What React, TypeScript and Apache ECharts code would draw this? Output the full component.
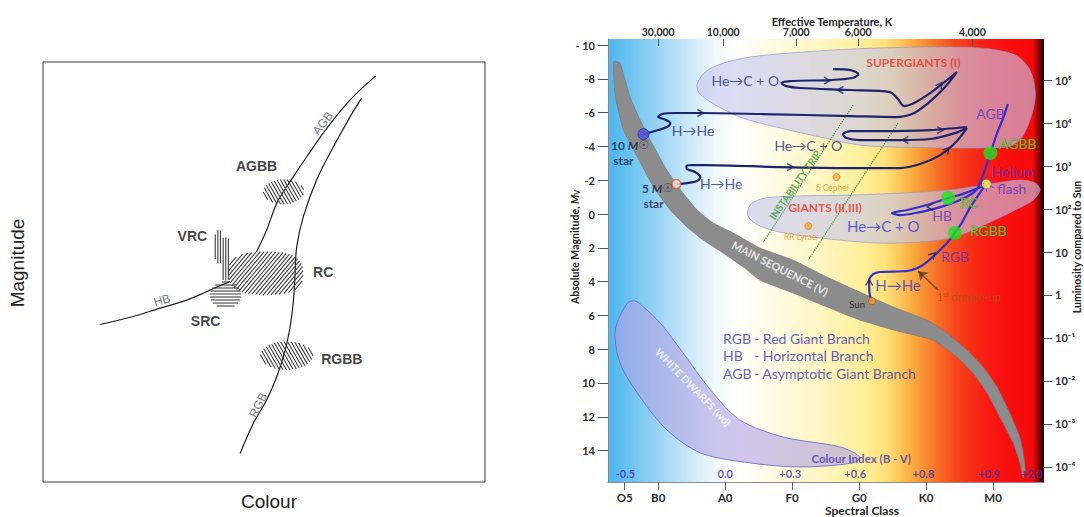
import React, { useEffect, useRef } from 'react';
import * as echarts from 'echarts';

const SANS = '"Liberation Sans", Arial, sans-serif';
const LATO = 'Lato, "Open Sans", "DejaVu Sans", sans-serif';
const NARROW = '"Liberation Sans Narrow", Lato, sans-serif';

// ================= LEFT PANEL: schematic colour–magnitude diagram (axes 0–100) =================
const hbCurve = [[12.9, 37.5], [20.4, 39.4], [26.5, 41.4], [32.5, 43.3], [37.0, 45.3], [40.0, 46.7], [42.3, 47.7]];
const agbCurve = [[48.3, 54.8], [50.6, 60.0], [52.9, 66.4], [55.9, 71.5], [59.7, 77.5], [64.2, 84.2], [69.5, 91.0], [75.3, 96.7]];
const rgbCurve = [[44.6, 6.8], [47.6, 14.0], [50.6, 19.5], [52.9, 25.1], [54.8, 31.4], [55.9, 37.0], [56.6, 42.5],
  [57.0, 48.9], [57.4, 56.0], [58.9, 63.2], [61.9, 71.9], [65.7, 79.8], [69.5, 87.0], [72.1, 91.4]];
// hatched clumps: centre x, centre y, half-width, half-height (data units)
const clumpNames = ['AGBB', 'RC', 'SRC', 'VRC-a', 'VRC-b', 'RGBB'];
const clumps = [
  [54.4, 69.1, 4.6, 3.0],
  [50.4, 49.7, 8.5, 5.2],
  [41.3, 44.5, 3.6, 3.2],
  [39.7, 56.0, 0.8, 4.0],
  [41.3, 53.1, 1.0, 5.2],
  [55.1, 30.1, 6.0, 3.4],
];
const clumpHatchAngle = [60, -50, 0, 90, 90, 60];
const clumpShapePower = [2, 2.6, 2, 4, 4, 2];
const leftLabels: [string, number, number][] = [
  ['AGBB', 48.3, 75.2], ['VRC', 33.8, 58.6], ['RC', 63.4, 50.1], ['SRC', 36.8, 38.4], ['RGBB', 67.6, 29.2],
];
const branchLabels: [string, number, number, number][] = [
  ['AGB', 63.3, 85.4, 52], ['HB', 26.9, 43.3, 15], ['RGB', 48.7, 18.3, 63],
];

// ================= RIGHT PANEL: HR diagram. x = spectral index (O5=0.5, B0=1, A0=2 ... M0=6), y = M_V =================
const specNames = ['O5', 'B0', 'A0', 'F0', 'G0', 'K0', 'M0'];
const specPos = [0.5, 1, 2, 3, 4, 5, 6];
const tempLabels = ['30,000', '10,000', '7,000', '6,000', '4,000'];
const tempPos = [1.0, 1.97, 3.06, 3.985, 5.69];
const magTicks = [-10, -8, -6, -4, -2, 0, 2, 4, 6, 8, 10, 12, 14];
const lumTicks = [-4, -3, -2, -1, 0, 1, 2, 3, 4, 5];
const lumLabels = ['10⁻⁴', '10⁻³', '10⁻²', '10⁻¹', '1', '10', '10²', '10³', '10⁴', '10⁵'];
const colourIndex = ['-0.5', '0.0', '+0.3', '+0.6', '+0.8', '+0.9', '+2.0'];
const colourIndexPos = [0.51, 2.0, 2.97, 3.94, 4.96, 5.94, 6.58];
const colourIndexMag = 15.33;

const mainSequence = [
  [0.34, -9.05], [0.43, -8.93], [0.58, -6.92], [0.73, -5.56], [0.88, -4.38], [1.13, -2.60], [1.37, -1.24],
  [1.58, -0.24], [1.82, 0.53], [2.12, 1.12], [2.52, 2.01], [3.01, 2.72], [3.52, 3.73], [4.01, 4.62],
  [4.51, 5.50], [5.01, 6.27], [5.25, 6.86], [5.61, 8.05], [5.85, 9.05], [6.06, 10.24], [6.25, 11.78],
  [6.40, 13.20], [6.46, 14.38], [6.48, 15.15], [6.45, 15.62],
  [6.40, 14.73], [6.30, 13.55], [6.10, 12.01], [5.91, 10.59], [5.70, 9.41], [5.46, 8.46], [5.10, 7.46],
  [4.51, 6.86], [4.01, 6.27], [3.52, 5.50], [3.01, 4.67], [2.52, 3.91], [2.27, 3.14], [1.97, 2.31],
  [1.67, 1.54], [1.43, 0.77], [1.18, -0.24], [0.93, -1.60], [0.69, -3.37], [0.48, -4.97], [0.36, -6.92], [0.33, -8.70],
];
const supergiants = [
  [1.58, -7.69], [1.70, -8.40], [1.93, -8.88], [2.37, -9.29], [2.97, -9.53], [3.87, -9.76], [4.91, -9.88],
  [5.81, -9.82], [6.33, -9.41], [6.55, -8.52], [6.63, -7.04], [6.55, -5.56], [6.40, -4.38], [6.18, -3.96],
  [4.61, -3.96], [4.01, -4.08], [3.42, -4.56], [2.82, -5.09], [2.22, -5.74], [1.78, -6.63], [1.60, -7.22],
];
const giants = [
  [2.33, -0.12], [2.40, -0.65], [2.60, -0.95], [3.12, -1.07], [3.87, -1.12], [4.61, -1.24], [5.36, -1.42],
  [5.96, -1.78], [6.40, -2.01], [6.63, -1.83], [6.70, -1.42], [6.60, -0.83], [6.33, -0.24], [5.96, 0.47],
  [5.51, 1.24], [5.06, 1.60], [4.31, 1.72], [3.42, 1.42], [2.82, 1.07], [2.52, 0.71], [2.37, 0.30],
];
const whiteDwarfs = [
  [0.54, 5.27], [0.36, 6.86], [0.43, 8.82], [0.73, 10.83], [1.13, 12.78], [1.63, 14.14], [2.37, 14.73],
  [3.12, 14.97], [3.91, 14.73], [4.01, 14.38], [3.72, 13.79], [2.87, 13.20], [2.22, 12.19], [1.78, 10.41],
  [1.37, 8.22], [1.03, 6.45], [0.78, 5.50], [0.66, 5.15],
];
const instabilityA = [[3.91, -6.45], [2.57, 1.66]];
const instabilityB = [[4.58, -5.38], [3.24, 2.72]];

const track10 = [
  [0.78, -4.73], [1.0, -4.97], [1.13, -5.15], [1.18, -5.38], [1.10, -5.59], [1.0, -5.74], [1.06, -5.92],
  [1.25, -5.98], [1.63, -5.98], [2.52, -5.92], [3.87, -5.80], [4.54, -5.74], [4.79, -5.92], [5.03, -6.57],
  [5.28, -7.51], [5.46, -8.40], [5.33, -7.99], [5.06, -7.16], [4.79, -6.51], [4.67, -6.39], [4.58, -6.80],
  [4.46, -7.22], [3.87, -7.34], [3.12, -7.46], [2.91, -7.57], [2.84, -7.75], [2.97, -7.87], [3.57, -7.93],
  [3.90, -8.05], [3.99, -8.28], [3.87, -8.52], [3.61, -8.58],
];
const track5 = [
  [1.27, -1.78], [1.43, -1.83], [1.58, -1.95], [1.63, -2.19], [1.55, -2.49], [1.43, -2.66], [1.42, -2.84],
  [1.51, -2.90], [1.70, -2.90], [2.82, -2.78], [3.87, -2.72], [4.61, -2.72], [4.91, -2.96], [5.21, -3.49],
  [5.43, -4.20], [5.61, -5.09], [5.43, -4.79], [5.06, -4.44], [4.61, -4.38], [4.01, -4.38], [3.81, -4.50],
  [3.76, -4.73], [3.87, -4.91], [4.31, -4.91], [5.06, -4.97], [5.61, -5.15],
];
const trackSun = [
  [4.19, 5.15], [4.16, 4.79], [4.15, 4.32], [4.15, 3.91], [4.21, 3.55], [4.31, 3.43], [4.72, 3.37],
  [4.87, 3.20], [5.01, 2.84], [5.21, 2.13], [5.39, 1.36], [5.43, 1.12], [5.54, 0.47], [5.66, -0.41],
  [5.78, -1.12], [5.90, -1.78], [5.78, -1.54], [5.54, -1.18], [5.33, -0.95], [5.06, -0.59], [4.72, -0.24],
  [4.49, -0.06], [4.61, 0.06], [4.84, -0.06], [5.21, -0.41], [5.54, -0.89], [5.75, -1.42], [5.85, -2.31],
  [5.96, -3.61], [6.06, -4.79], [6.15, -5.68], [6.22, -6.51],
];
// direction arrows on the tracks: x, M, heading (deg, anticlockwise from +x)
const trackArrows = [
  [1.63, -5.98, 0], [2.97, -2.78, 0], [3.52, -7.90, 0], [3.72, -7.34, 180], [5.21, -7.63, 55],
  [5.31, -3.79, 50], [5.21, -4.97, 0], [4.69, -4.38, 180], [4.15, 4.05, 90], [5.10, 2.43, 45], [5.06, -0.42, 180],
];
const starPoints = [[0.78, -4.73], [1.27, -1.78], [4.19, 5.15]];
const clumpPoints = [[5.96, -3.61], [5.33, -0.95], [5.43, 1.12]];
const heliumFlash = [5.90, -1.78];
const variablePoints = [[3.66, -2.19], [3.24, 0.71]];
const dredgeArrow = [[5.18, 4.50], [4.88, 3.37]];

const rightLabels: [string, number, number, string][] = [
  ['He→C + O', 2.30, -7.93, 'navy'],
  ['H→He', 1.52, -4.97, 'navy'],
  ['He→C + O', 3.24, -4.08, 'navy'],
  ['H→He', 1.94, -1.83, 'navy'],
  ['He→C + O', 4.36, 0.71, 'blue'],
  ['H→He', 4.58, 4.20, 'blue'],
  ['{n|10 }{i|M}{s|☉}', 0.58, -4.08, 'star'],
  ['star', 0.48, -3.14, 'star'],
  ['{n|5 }{i|M}{s|☉}', 0.99, -1.54, 'star'],
  ['star', 0.93, -0.65, 'star'],
  ['SUPERGIANTS (I)', 4.81, -8.99, 'region'],
  ['GIANTS (II,III)', 3.49, -0.36, 'region'],
  ['MAIN SEQUENCE (V)', 2.82, 3.20, 'ms'],
  ['WHITE DWARFS (wd)', 1.52, 10.24, 'wd'],
  ['INSTABILITY TRIP', 3.04, -1.72, 'instab'],
  ['δ Cephei', 3.60, -1.54, 'variable'],
  ['RR Lyrae', 3.12, 1.36, 'variable'],
  ['Sun', 3.97, 5.33, 'sun'],
  ['{n|1}{s|st} dredge-up', 5.64, 4.91, 'dredge'],
  ['AGB', 5.96, -5.98, 'branch'],
  ['Helium', 6.30, -2.49, 'branch'],
  ['flash', 6.28, -1.54, 'branch'],
  ['HB', 5.24, 0.06, 'branch'],
  ['RGB', 5.43, 2.54, 'branch'],
  ['AGBB', 6.37, -4.20, 'clump'],
  ['RC', 5.64, -0.71, 'clump'],
  ['RGBB', 5.93, 0.95, 'clump'],
  ['Colour Index (B - V)', 4.03, 14.44, 'ci'],
  ['{k|RGB}{v|- Red Giant Branch}', 1.96, 7.34, 'legend'],
  ['{k|HB}{v|- Horizontal Branch}', 1.96, 8.40, 'legend'],
  ['{k|AGB}{v|- Asymptotic Giant Branch}', 1.96, 9.41, 'legend'],
];

const labelStyles: Record<string, any> = {
  navy: { fontSize: 14, color: '#262b85', fontFamily: LATO },
  blue: { fontSize: 15, color: '#3b3bd4', fontFamily: LATO },
  star: {
    fontSize: 12, fontWeight: 'bold', color: '#1c1c4a', fontFamily: LATO,
    rich: {
      n: { fontSize: 12, fontWeight: 'bold', color: '#1c1c4a', fontFamily: LATO },
      i: { fontSize: 12, fontWeight: 'bold', fontStyle: 'italic', color: '#1c1c4a', fontFamily: LATO },
      s: { fontSize: 12, color: '#1c1c4a', fontFamily: '"DejaVu Sans", sans-serif' },
    },
  },
  region: { fontSize: 12, fontWeight: 'bold', color: '#e3342b', fontFamily: LATO },
  ms: { fontSize: 11, fontWeight: 'bold', color: '#ffffff', fontFamily: LATO, rotate: -27 },
  wd: { fontSize: 10.5, fontWeight: 'bold', color: '#ffffff', fontFamily: LATO, rotate: -46 },
  instab: { fontSize: 10, fontWeight: 'bold', color: '#2f9a2f', fontFamily: LATO, rotate: 55 },
  variable: { fontSize: 8.5, color: '#e8901e', fontFamily: LATO },
  sun: { fontSize: 9.5, color: '#111111', fontFamily: LATO },
  dredge: {
    fontSize: 11, color: '#b5500e', fontFamily: LATO,
    rich: {
      n: { fontSize: 11, color: '#b5500e', fontFamily: LATO },
      s: { fontSize: 7, color: '#b5500e', fontFamily: LATO, padding: [0, 0, 5, 0] },
    },
  },
  branch: { fontSize: 14, color: '#5b34c4', fontFamily: LATO },
  clump: { fontSize: 14, color: '#52e23c', fontFamily: LATO, textBorderColor: 'rgba(80,90,20,0.55)', textBorderWidth: 1 },
  ci: { fontSize: 11.5, fontWeight: 'bold', color: '#4a32b0', fontFamily: LATO },
  legend: {
    position: 'right', distance: 0, fontSize: 14, color: '#3a36b6', fontFamily: LATO,
    rich: {
      k: { width: 31, fontSize: 14, color: '#3a36b6', fontFamily: LATO },
      v: { fontSize: 14, color: '#3a36b6', fontFamily: LATO },
    },
  },
};

function pick(values: number[], names: string[]) {
  return (v: number) => {
    const i = values.findIndex((p) => Math.abs(p - v) < 1e-6);
    return i >= 0 ? names[i] : '';
  };
}

function labelSeries(items: any[], styles: Record<string, any> | null, xi: number, yi: number, z: number, common?: any) {
  return {
    type: 'scatter', xAxisIndex: xi, yAxisIndex: yi, z, silent: true,
    symbolSize: 1, itemStyle: { color: 'rgba(0,0,0,0)' },
    data: items.map((it: any) => {
      const st = styles ? styles[it[3]] : common(it);
      return { value: [it[1], it[2]], label: { show: true, position: 'inside', formatter: it[0], ...st } };
    }),
  };
}

function polygonSeries(pts: number[][], fill: string, stroke: string, z: number, smooth: number) {
  return {
    type: 'custom', xAxisIndex: 1, yAxisIndex: 1, z, silent: true,
    data: [pts[0]],
    renderItem: (_p: any, api: any) => ({
      type: 'polygon',
      shape: { points: pts.map((p) => api.coord(p)), smooth },
      style: { fill, stroke, lineWidth: 1 },
    }),
  };
}

function trackSeries(pts: number[][], color: string, width: number) {
  return {
    type: 'line', xAxisIndex: 1, yAxisIndex: 1, z: 6, silent: true,
    data: pts, showSymbol: false, smooth: 0.3,
    lineStyle: { color, width },
  };
}

function buildOption() {
  const bg = new echarts.graphic.LinearGradient(0, 0, 1, 0, [
    { offset: 0, color: '#4cb5ee' },
    { offset: 0.073, color: '#7cc9f1' },
    { offset: 0.165, color: '#bde2f7' },
    { offset: 0.245, color: '#f0f9fd' },
    { offset: 0.3, color: '#fffffc' },
    { offset: 0.372, color: '#fffbe6' },
    { offset: 0.486, color: '#fff6c2' },
    { offset: 0.578, color: '#fff09c' },
    { offset: 0.635, color: '#ffe27a' },
    { offset: 0.67, color: '#fcc65a' },
    { offset: 0.704, color: '#f9a53c' },
    { offset: 0.75, color: '#f77628' },
    { offset: 0.796, color: '#f6461c' },
    { offset: 0.853, color: '#f82414' },
    { offset: 0.9, color: '#fb1010' },
    { offset: 0.975, color: '#f40a0a' },
    { offset: 0.99, color: '#7a0404' },
    { offset: 1, color: '#1a0000' },
  ]);

  const hatchSeries = {
    type: 'custom', xAxisIndex: 0, yAxisIndex: 0, z: 3, silent: true,
    data: clumps,
    renderItem: (params: any, api: any) => {
      const c = api.coord([api.value(0), api.value(1)]);
      const s = api.size([api.value(2), api.value(3)]);
      const rx = s[0], ry = s[1];
      const a = (clumpHatchAngle[params.dataIndex] * Math.PI) / 180;
      const pw = clumpShapePower[params.dataIndex];
      const dx = Math.cos(a), dy = Math.sin(a);
      const nx = -dy, ny = dx;
      const R = Math.max(rx, ry) * 1.2;
      const children: any[] = [];
      const step = pw >= 4 ? 2.6 : 3.0;
      for (let d = -R; d <= R; d += step) {
        let t0: number | null = null, t1 = 0;
        for (let t = -R * 1.5; t <= R * 1.5; t += 0.4) {
          const x = nx * d + dx * t, y = ny * d + dy * t;
          if (Math.pow(Math.abs(x / rx), pw) + Math.pow(Math.abs(y / ry), pw) <= 1) {
            if (t0 === null) t0 = t;
            t1 = t;
          }
        }
        if (t0 !== null && t1 - t0 > 1) {
          children.push({
            type: 'line',
            shape: { x1: c[0] + nx * d + dx * t0, y1: c[1] + ny * d + dy * t0, x2: c[0] + nx * d + dx * t1, y2: c[1] + ny * d + dy * t1 },
            style: { stroke: '#3e3e3e', lineWidth: 1.1 },
          });
        }
      }
      return { type: 'group', children };
    },
  };

  const leftLine = (pts: number[][]) => ({
    type: 'line', xAxisIndex: 0, yAxisIndex: 0, z: 2, silent: true, data: pts, showSymbol: false, smooth: 0.4,
    lineStyle: { color: '#1e1e1e', width: 1.2 },
  });

  const axisTxt = { fontFamily: NARROW, fontWeight: 'bold', color: '#2a2a2a' };

  return {
    animation: false,
    backgroundColor: '#ffffff',
    grid: [
      { left: 43, top: 62, width: 442, height: 420, show: true, borderColor: '#3a3a3a', borderWidth: 1, backgroundColor: '#ffffff' },
      { left: 608, top: 39, right: 40, bottom: 35, show: true, borderWidth: 0, backgroundColor: bg },
    ],
    xAxis: [
      { type: 'value', gridIndex: 0, min: 0, max: 100, show: false },
      {
        type: 'value', gridIndex: 1, min: 0.25, max: 6.76, position: 'bottom',
        axisLine: { show: true, onZero: false, lineStyle: { color: '#8a8a8a' } },
        axisTick: { show: true, customValues: specPos, length: 8, lineStyle: { color: '#666' } },
        axisLabel: { customValues: specPos, formatter: pick(specPos, specNames), margin: 9, fontSize: 11.5, ...axisTxt },
        splitLine: { show: false },
      },
      {
        type: 'value', gridIndex: 1, min: 0.25, max: 6.76, position: 'top',
        axisLine: { show: false, onZero: false },
        axisTick: { show: true, inside: true, customValues: tempPos, length: 7, lineStyle: { color: '#555' } },
        axisLabel: { customValues: tempPos, formatter: pick(tempPos, tempLabels), margin: 2, fontSize: 10.5, ...axisTxt },
        splitLine: { show: false },
      },
    ],
    yAxis: [
      { type: 'value', gridIndex: 0, min: 0, max: 100, show: false },
      {
        type: 'value', gridIndex: 1, inverse: true, min: -10.36, max: 15.86, position: 'left',
        axisLine: { show: true, onZero: false, lineStyle: { color: '#8a8a8a' } },
        axisTick: { show: true, customValues: magTicks, length: 10, lineStyle: { color: '#555' } },
        axisLabel: { customValues: magTicks, formatter: (v: number) => (v === -10 ? '- 10' : String(v)), margin: 13, fontSize: 11, ...axisTxt },
        splitLine: { show: false },
      },
      {
        type: 'value', gridIndex: 1, min: -4.35, max: 5.955, position: 'right',
        axisLine: { show: false, onZero: false },
        axisTick: { show: true, customValues: lumTicks, length: 8, lineStyle: { color: '#555' } },
        axisLabel: { customValues: lumTicks, formatter: pick(lumTicks, lumLabels), margin: 11, fontSize: 11, ...axisTxt },
        splitLine: { show: false },
      },
    ],
    graphic: [
      { type: 'text', x: 17, y: 263, rotation: Math.PI / 2, style: { text: 'Magnitude', fontSize: 19, fontFamily: SANS, fill: '#222', align: 'center', verticalAlign: 'middle' } },
      { type: 'text', x: 269, y: 501, style: { text: 'Colour', fontSize: 19, fontFamily: SANS, fill: '#222', align: 'center', verticalAlign: 'middle' } },
      { type: 'text', x: 832, y: 21, style: { text: 'Effective Temperature, K', fontSize: 11, fontFamily: NARROW, fontWeight: 'bold', fill: '#222', align: 'center', verticalAlign: 'middle' } },
      { type: 'text', x: 862, y: 510, style: { text: 'Spectral Class', fontSize: 12, fontFamily: NARROW, fontWeight: 'bold', fill: '#222', align: 'center', verticalAlign: 'middle' } },
      {
        type: 'text', x: 575, y: 247, rotation: Math.PI / 2,
        style: {
          text: '{a|Absolute Magnitude, }{i|M}{s|V}', align: 'center', verticalAlign: 'middle',
          rich: {
            a: { fontSize: 10.5, fontFamily: NARROW, fontWeight: 'bold', fill: '#222' },
            i: { fontSize: 10.5, fontFamily: NARROW, fontWeight: 'bold', fontStyle: 'italic', fill: '#222' },
            s: { fontSize: 7, fontFamily: NARROW, fontWeight: 'bold', fill: '#222', padding: [4, 0, 0, 0] },
          },
        },
      },
      { type: 'text', x: 1077, y: 247, rotation: Math.PI / 2, style: { text: 'Luminosity compared to Sun', fontSize: 10.5, fontFamily: NARROW, fontWeight: 'bold', fill: '#222', align: 'center', verticalAlign: 'middle' } },
    ],
    series: [
      // ---- left panel
      leftLine(hbCurve),
      leftLine(agbCurve),
      leftLine(rgbCurve),
      hatchSeries,
      labelSeries(leftLabels.map((l) => [l[0], l[1], l[2], 'x']), null, 0, 0, 5,
        () => ({ fontSize: 14, fontWeight: 'bold', fontFamily: SANS, color: '#111' })),
      labelSeries(branchLabels.map((l) => [l[0], l[1], l[2], l[3]]), null, 0, 0, 5,
        (it: any) => ({ fontSize: 12, fontFamily: SANS, color: '#555', rotate: it[3] })),
      // ---- right panel regions
      polygonSeries(mainSequence, '#8c8c8c', 'rgba(120,120,120,0.6)', 2, 0.15),
      polygonSeries(whiteDwarfs, 'rgba(178,164,228,0.62)', 'rgba(100,100,205,0.8)', 2, 0.3),
      polygonSeries(supergiants, 'rgba(198,198,236,0.62)', 'rgba(150,150,205,0.7)', 3, 0.3),
      polygonSeries(giants, 'rgba(198,198,236,0.62)', 'rgba(150,150,205,0.7)', 3, 0.3),
      {
        type: 'line', xAxisIndex: 1, yAxisIndex: 1, z: 4, silent: true, data: instabilityA, showSymbol: false,
        lineStyle: { color: '#2e8f2e', width: 1.2, type: 'dotted' },
      },
      {
        type: 'line', xAxisIndex: 1, yAxisIndex: 1, z: 4, silent: true, data: instabilityB, showSymbol: false,
        lineStyle: { color: '#2e8f2e', width: 1.2, type: 'dotted' },
      },
      trackSeries(track10, '#1f246e', 2.2),
      trackSeries(track5, '#1f246e', 2.2),
      trackSeries(trackSun, '#3030cf', 2.2),
      {
        type: 'scatter', xAxisIndex: 1, yAxisIndex: 1, z: 7, silent: true,
        symbol: 'path://M0,0L8,5L0,10', symbolSize: [6, 7],
        data: trackArrows.map((a) => ({ value: [a[0], a[1]], symbolRotate: a[2] })),
        itemStyle: { color: 'rgba(0,0,0,0)', borderColor: '#1f246e', borderWidth: 1.4 },
      },
      {
        type: 'lines', coordinateSystem: 'cartesian2d', xAxisIndex: 1, yAxisIndex: 1, z: 7, silent: true,
        symbol: ['none', 'arrow'], symbolSize: 9,
        data: [{ coords: dredgeArrow }],
        lineStyle: { color: '#111', width: 1.4, curveness: 0 },
      },
      {
        type: 'scatter', xAxisIndex: 1, yAxisIndex: 1, z: 8, silent: true,
        data: [
          { value: starPoints[0], symbolSize: 11, itemStyle: { color: '#5252e4', borderColor: '#3030a0', borderWidth: 1 } },
          { value: starPoints[1], symbolSize: 9, itemStyle: { color: '#fde6da', borderColor: '#e0563a', borderWidth: 1.5 } },
          { value: starPoints[2], symbolSize: 7, itemStyle: { color: '#f6a323', borderColor: '#cf5a10', borderWidth: 1 } },
          { value: variablePoints[0], symbolSize: 7, itemStyle: { color: '#f3a73a', borderColor: '#e38a1a', borderWidth: 1 } },
          { value: variablePoints[1], symbolSize: 7, itemStyle: { color: '#f3a73a', borderColor: '#e38a1a', borderWidth: 1 } },
        ],
      },
      {
        type: 'scatter', xAxisIndex: 1, yAxisIndex: 1, z: 8, silent: true,
        symbolSize: 14, itemStyle: { color: '#1fe21f' },
        data: clumpPoints,
      },
      {
        type: 'scatter', xAxisIndex: 1, yAxisIndex: 1, z: 8, silent: true,
        data: [
          {
            value: heliumFlash, symbolSize: 17,
            symbol: 'path://M5,0L6,3.5L10,2.5L7,5L10,7.5L6,6.5L5,10L4,6.5L0,7.5L3,5L0,2.5L4,3.5Z',
            itemStyle: { color: '#6a3acb' },
          },
          { value: heliumFlash, symbolSize: 9, itemStyle: { color: '#ffff3a' } },
        ],
      },
      labelSeries(rightLabels, labelStyles, 1, 1, 10),
      labelSeries(colourIndex.map((t, i) => [t, colourIndexPos[i], colourIndexMag, 'c']), null, 1, 1, 10,
        () => ({ fontSize: 11, fontWeight: 'bold', fontFamily: LATO, color: '#3a2fae' })),
    ],
  };
}

export default function App() {
  const ref = useRef<HTMLDivElement>(null);
  useEffect(() => {
    const chart = echarts.init(ref.current!, null, { renderer: 'svg' });
    chart.setOption(buildOption() as any);
    return () => chart.dispose();
  }, []);
  return (
    <div
      ref={ref}
      style={{ position: 'fixed', left: 0, top: 0, width: 1084, height: 517, background: '#ffffff' }}
    />
  );
}
